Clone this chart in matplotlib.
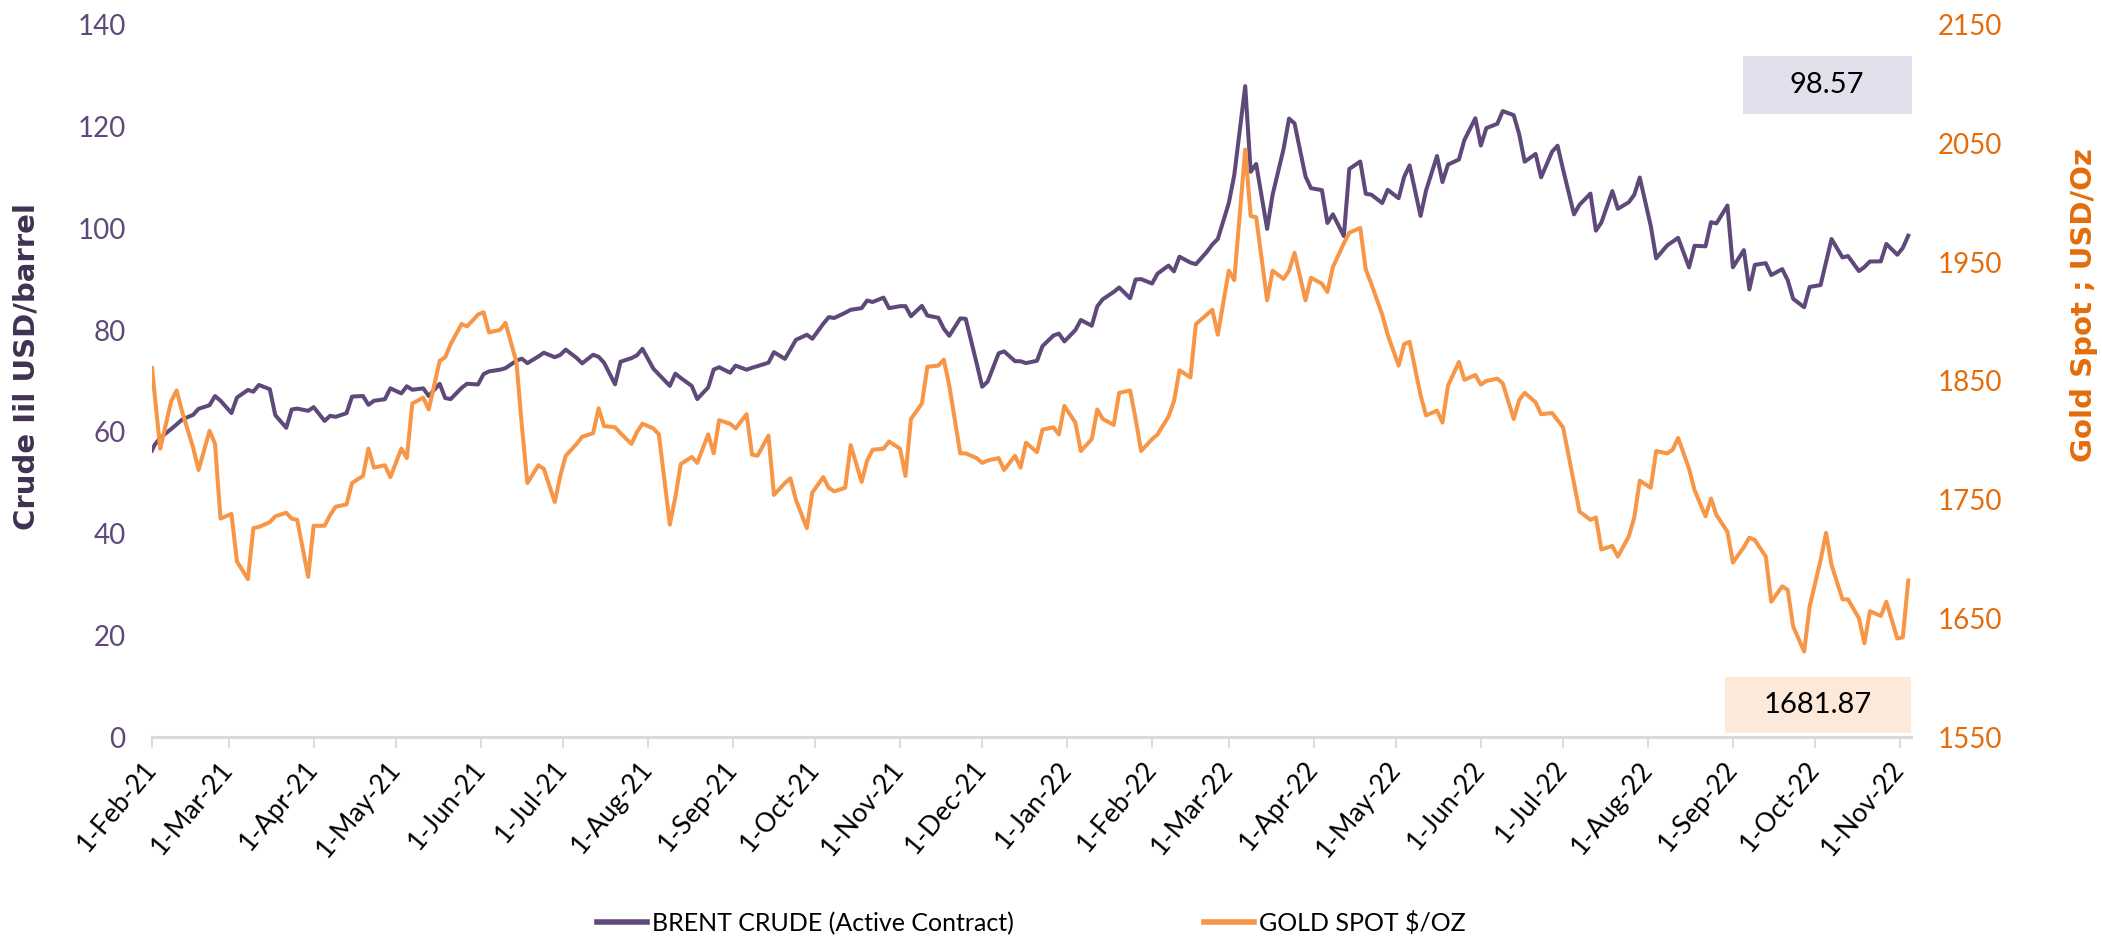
import matplotlib
matplotlib.use("Agg")
import matplotlib.pyplot as plt
import matplotlib.dates as mdates
from matplotlib.patches import Rectangle
import pandas as pd

plt.rcParams["font.family"] = ["Lato", "DejaVu Sans"]

# first session, then every second trading day up to 4-Nov-22
dates = pd.DatetimeIndex(["2021-02-01"]).append(
    pd.bdate_range("2021-02-02", "2022-11-04")[::2]
)

brent = [
    # 2021
    56.35, 57.46, 58.84, 60.56, 61.47, 62.43, 63.35, 64.53, 65.24, 67.04, 66.13,
    63.69, 66.74, 68.24, 67.90, 69.22, 68.39, 63.28, 60.80, 64.41, 64.57, 64.14,
    64.86, 62.15, 63.16, 62.95, 63.67, 66.94, 67.05, 65.32, 66.11, 66.42, 68.56,
    67.56, 68.96, 68.28, 68.55, 67.05, 69.46, 66.66, 66.44, 68.65, 69.46, 69.32,
    71.35, 71.89, 72.22, 72.52, 73.99, 74.39, 73.51, 74.81, 75.56, 74.68, 75.13,
    76.17, 74.53, 73.47, 75.16, 74.76, 73.59, 69.35, 73.79, 74.50, 75.05, 76.33,
    72.41, 71.29, 69.04, 71.44, 70.59, 69.03, 66.45, 68.75, 72.25, 72.70, 71.63,
    73.03, 72.22, 72.60, 72.92, 73.60, 75.67, 74.36, 76.19, 78.09, 79.09, 78.31,
    81.26, 82.56, 82.39, 83.42, 84.00, 84.33, 85.82, 85.53, 86.40, 84.32,
    84.71, 84.72, 82.74, 84.78, 82.87, 82.43, 80.28, 78.89, 82.31, 82.22, 73.44,
    68.87, 69.88, 75.44, 75.82, 73.90, 73.88, 73.52, 73.98, 76.85, 78.94, 79.32, 77.78,
    # 2022
    80.00, 81.99, 80.87, 84.67, 86.06, 87.51, 88.38, 86.27, 89.96, 90.03,
    89.16, 91.11, 92.69, 91.55, 94.44, 93.28, 92.97, 95.39, 96.84, 97.93,
    104.97, 110.46, 127.98, 111.14, 112.67, 99.91, 106.64, 115.62, 121.60, 120.65, 110.23, 107.91,
    107.53, 101.07, 102.78, 98.50, 111.70, 113.16, 106.80, 106.65, 104.99, 107.59,
    105.94, 110.14, 112.39, 102.46, 107.45, 114.24, 109.11, 112.55, 113.56, 117.40, 121.67,
    116.29, 119.72, 120.57, 123.07, 122.27, 118.51, 113.12, 114.65, 110.05, 115.09, 116.26,
    111.63, 102.77, 104.65, 106.85, 99.57, 101.16, 107.35, 103.86, 105.15, 106.62, 110.01,
    100.54, 94.12, 96.65, 97.40, 98.15, 92.34, 96.59, 96.48, 101.22, 100.99, 104.50,
    92.36, 95.74, 88.00, 92.84, 93.17, 90.84, 92.00, 89.83, 86.15, 84.50, 88.49,
    88.86, 93.37, 97.92, 94.29, 94.57, 91.62, 92.41, 93.50, 93.52, 96.96, 94.83,
    96.16, 98.57,
]

gold = [
    # 2021
    1861, 1838, 1793, 1833, 1842, 1824, 1794, 1775, 1808, 1797, 1734,
    1738, 1698, 1683, 1726, 1727, 1731, 1736, 1739, 1734, 1733, 1685,
    1728, 1728, 1737, 1744, 1746, 1764, 1770, 1793, 1777, 1779, 1769,
    1793, 1785, 1831, 1836, 1826, 1867, 1870, 1881, 1898, 1896, 1906,
    1908, 1891, 1893, 1899, 1866, 1812, 1764, 1779, 1776, 1748, 1770,
    1787, 1797, 1803, 1806, 1827, 1812, 1811, 1806, 1797, 1807, 1814,
    1810, 1805, 1729, 1752, 1780, 1786, 1781, 1805, 1789, 1817, 1814,
    1810, 1822, 1788, 1787, 1804, 1754, 1764, 1768, 1750, 1726, 1756,
    1769, 1760, 1757, 1760, 1796, 1765, 1783, 1792, 1793, 1799,
    1793, 1770, 1818, 1831, 1862, 1863, 1868, 1846, 1789, 1789, 1785,
    1781, 1783, 1785, 1775, 1787, 1777, 1798, 1790, 1809, 1811, 1805, 1829,
    # 2022
    1815, 1791, 1801, 1826, 1818, 1813, 1840, 1842, 1818, 1791,
    1801, 1805, 1820, 1833, 1859, 1853, 1898, 1906, 1910, 1889,
    1943, 1935, 2045, 1989, 1988, 1918, 1943, 1936, 1943, 1958, 1918, 1937,
    1932, 1925, 1946, 1966, 1975, 1979, 1944, 1932, 1906, 1889,
    1863, 1881, 1883, 1838, 1821, 1825, 1815, 1846, 1866, 1851, 1855,
    1847, 1850, 1852, 1848, 1818, 1834, 1840, 1832, 1822, 1823, 1817,
    1811, 1764, 1740, 1733, 1735, 1708, 1711, 1702, 1719, 1735, 1766,
    1760, 1791, 1789, 1792, 1802, 1776, 1758, 1736, 1751, 1737, 1723,
    1697, 1710, 1718, 1716, 1702, 1664, 1677, 1674, 1643, 1622, 1660,
    1699, 1722, 1695, 1666, 1666, 1650, 1629, 1656, 1652, 1664, 1633,
    1634, 1681.87,
]

series_names = ["BRENT CRUDE (Active Contract)", "GOLD SPOT $/OZ"]
brent_ticks = list(range(0, 141, 20))
gold_ticks = list(range(1550, 2151, 100))

PURPLE = "#5F497A"
PURPLE_DARK = "#3F3151"
ORANGE = "#F79646"
ORANGE_DARK = "#E46C0A"
GRID_GREY = "#D9D9D9"

W, H = 2102, 942
fig = plt.figure(figsize=(W / 100, H / 100), dpi=100)
ax = fig.add_axes([152 / W, 205 / H, 1759 / W, 712 / H])
ax2 = ax.twinx()

l1, = ax.plot(dates, brent, color=PURPLE, lw=2.9, label=series_names[0])
l2, = ax2.plot(dates, gold, color=ORANGE, lw=2.9, label=series_names[1])

ax.set_ylim(0, 140)
ax.set_yticks(brent_ticks)
ax2.set_ylim(1550, 2150)
ax2.set_yticks(gold_ticks)
ax.set_xlim(pd.Timestamp("2021-02-01"), pd.Timestamp("2022-11-05"))
ax.xaxis.set_major_locator(mdates.MonthLocator())
ax.xaxis.set_major_formatter(mdates.DateFormatter("%-d-%b-%y"))

for a in (ax, ax2):
    for side in ("top", "left", "right"):
        a.spines[side].set_visible(False)
ax2.spines["bottom"].set_visible(False)
ax.spines["bottom"].set_color(GRID_GREY)
ax.spines["bottom"].set_linewidth(2.2)

ax.tick_params(axis="x", length=8, width=1.3, color=GRID_GREY, pad=12,
               labelsize=19, labelcolor="black")
ax.tick_params(axis="y", length=0, pad=19, labelsize=20, labelcolor=PURPLE)
ax2.tick_params(axis="y", length=0, pad=19, labelsize=20, labelcolor=ORANGE_DARK)
for lab in ax.get_xticklabels():
    lab.set_rotation(50)
    lab.set_ha("right")
    lab.set_va("center")
    lab.set_rotation_mode("anchor")

fig.text(27 / W, 1 - 366 / H, "Crude Iil USD/barrel", rotation=90,
         ha="center", va="center", fontsize=21, fontweight="bold",
         color=PURPLE_DARK, family="DejaVu Sans")
fig.text(2084 / W, 1 - 305 / H, "Gold Spot ; USD/Oz", rotation=90,
         ha="center", va="center", fontsize=21, fontweight="bold",
         color=ORANGE_DARK, family="DejaVu Sans")

# latest-value call-outs
fig.patches.append(Rectangle((1743 / W, 1 - 114 / H), 169 / W, 58 / H,
                             transform=fig.transFigure, facecolor="#E4DFEC",
                             edgecolor="none"))
fig.text(1827 / W, 1 - 85 / H, f"{brent[-1]:.2f}", ha="center", va="center",
         fontsize=21, color="black")
fig.patches.append(Rectangle((1725 / W, 1 - 733 / H), 186 / W, 56 / H,
                             transform=fig.transFigure, facecolor="#FDE9D9",
                             edgecolor="none"))
fig.text(1818 / W, 1 - 705 / H, f"{gold[-1]:.2f}", ha="center", va="center",
         fontsize=21, color="black")

leg = fig.legend([l1, l2], series_names, loc="center",
                 bbox_to_anchor=(1031 / W, 19 / H), ncol=2, frameon=False,
                 fontsize=18, handlelength=2.0, handletextpad=0.2,
                 columnspacing=7.6)
for line in leg.get_lines():
    line.set_linewidth(4)

fig.savefig("out.png", dpi=100)
